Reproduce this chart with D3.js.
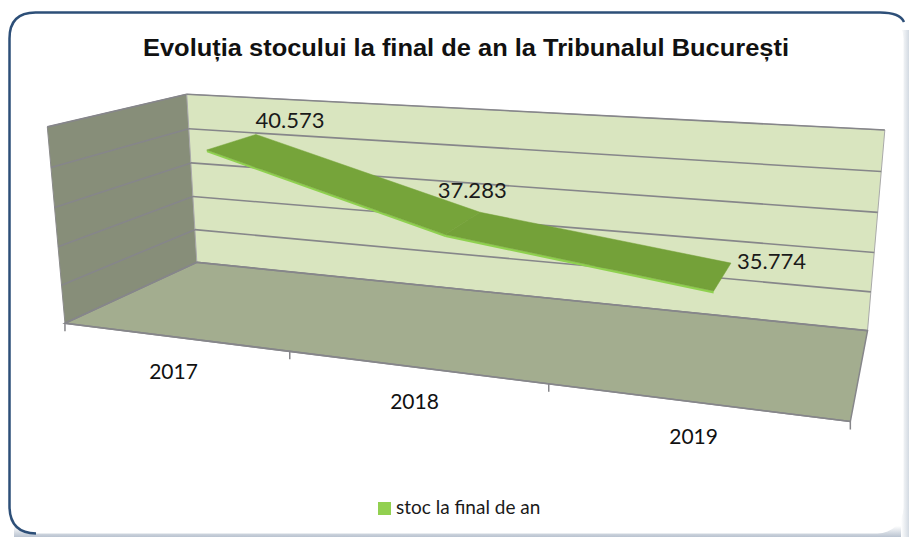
<!DOCTYPE html>
<html>
<head>
<meta charset="utf-8">
<script src="https://cdn.jsdelivr.net/npm/d3@7"></script>
<style>
  html, body { margin: 0; padding: 0; background: #fff; }
  svg { display: block; }
</style>
</head>
<body>
<svg id="chart" width="909" height="537"></svg>
<script>
// data
var years = ["2017", "2018", "2019"];
var stoc = [40573, 37283, 35774];
var valueTicks = [32000, 34000, 36000, 38000, 40000, 42000];
var seriesName = "stoc la final de an";
var title = "Evoluția stocului la final de an la Tribunalul București";

var width = 909, height = 537;
var svg = d3.select("#chart");

// 3d box: x = categories 0..3, y = value 0..1, z = depth 0 (front) .. 1 (back)
// anchors pin the box corners to the picture, a camera matrix is fitted to them
var anchors = [
    [[0, 1, 1], [186, 95]],
    [[0, 0, 1], [197, 263]],
    [[3, 1, 1], [885, 131]],
    [[3, 0, 1], [868, 328]],
    [[0, 0, 0], [65, 322]],
    [[0, 1, 0], [48, 125]],
    [[3, 0, 0], [850, 421]],
    [[1, 0, 0], [290, 352]],
    [[2, 0, 0], [548, 387]]
];

function fitCamera(pts) {
    var rows = [], rhs = [];
    pts.forEach(function (p) {
        var X = p[0][0], Y = p[0][1], Z = p[0][2], u = p[1][0], v = p[1][1];
        rows.push([X, Y, Z, 1, 0, 0, 0, 0, -u * X, -u * Y, -u * Z]); rhs.push(u);
        rows.push([0, 0, 0, 0, X, Y, Z, 1, -v * X, -v * Y, -v * Z]); rhs.push(v);
    });
    var n = 11, M = [], b = [];
    for (var i = 0; i < n; i++) {
        M.push(new Array(n).fill(0)); b.push(0);
        for (var k = 0; k < rows.length; k++) {
            b[i] += rows[k][i] * rhs[k];
            for (var j = 0; j < n; j++) M[i][j] += rows[k][i] * rows[k][j];
        }
    }
    // gaussian elimination
    for (var c = 0; c < n; c++) {
        var piv = c;
        for (var r = c + 1; r < n; r++) if (Math.abs(M[r][c]) > Math.abs(M[piv][c])) piv = r;
        var t = M[c]; M[c] = M[piv]; M[piv] = t;
        var tb = b[c]; b[c] = b[piv]; b[piv] = tb;
        for (var r2 = c + 1; r2 < n; r2++) {
            var f = M[r2][c] / M[c][c];
            for (var j2 = c; j2 < n; j2++) M[r2][j2] -= f * M[c][j2];
            b[r2] -= f * b[c];
        }
    }
    var p = new Array(n).fill(0);
    for (var r3 = n - 1; r3 >= 0; r3--) {
        var s = b[r3];
        for (var j3 = r3 + 1; j3 < n; j3++) s -= M[r3][j3] * p[j3];
        p[r3] = s / M[r3][r3];
    }
    return p;
}

var cam = fitCamera(anchors);

function proj(X, Y, Z) {
    var w = cam[8] * X + cam[9] * Y + cam[10] * Z + 1;
    return [(cam[0] * X + cam[1] * Y + cam[2] * Z + cam[3]) / w,
            (cam[4] * X + cam[5] * Y + cam[6] * Z + cam[7]) / w];
}

var xScale = d3.scaleBand().domain(years).range([0, 3]);
var yScale = d3.scaleLinear().domain([valueTicks[0], valueTicks[valueTicks.length - 1]]).range([0, 1]);
var xMid = function (d) { return xScale(d) + xScale.bandwidth() / 2; };

var ro = d3.formatLocale({ decimal: ",", thousands: ".", grouping: [3], currency: ["", ""] });
var fmt = ro.format(",d");

function poly(pts) { return "M" + pts.map(function (p) { return p.join(","); }).join("L") + "Z"; }
function line(a, b) { return "M" + a.join(",") + "L" + b.join(","); }

// chart area frame
var defs = svg.append("defs");
var sh = defs.append("linearGradient").attr("id", "shadowB").attr("x1", 0).attr("y1", 0).attr("x2", 0).attr("y2", 1);
sh.append("stop").attr("offset", 0).attr("stop-color", "#ffffff");
sh.append("stop").attr("offset", 1).attr("stop-color", "#b9c3d0");
svg.append("rect").attr("x", 14).attr("y", 526).attr("width", 895).attr("height", 11).attr("fill", "url(#shadowB)");
var shr = defs.append("linearGradient").attr("id", "shadowR").attr("x1", 0).attr("y1", 0).attr("x2", 1).attr("y2", 0);
shr.append("stop").attr("offset", 0).attr("stop-color", "#ffffff");
shr.append("stop").attr("offset", 1).attr("stop-color", "#d3dae2");
svg.append("rect").attr("x", 901).attr("y", 30).attr("width", 8).attr("height", 507).attr("fill", "url(#shadowR)");
svg.append("rect")
    .attr("x", 9.5).attr("y", 12.5).attr("width", 894).attr("height", 521)
    .attr("rx", 26).attr("fill", "#ffffff").attr("stroke", "none");
svg.append("path")
    .attr("d", "M9.5,506 L9.5,38.5 Q9.5,12.5 35.5,12.5 L880,12.5 Q900,12.5 904,22")
    .attr("fill", "none").attr("stroke", "#2d4f78").attr("stroke-width", 2.5);
svg.append("path")
    .attr("d", "M9.5,506 Q9.5,533 36,533.5")
    .attr("fill", "none").attr("stroke", "#2d4f78").attr("stroke-width", 2.5);

// title
svg.append("text")
    .attr("x", 466).attr("y", 56)
    .attr("text-anchor", "middle")
    .attr("font-family", "Liberation Sans, Arial, sans-serif")
    .attr("font-weight", "bold").attr("font-size", 23)
    .attr("textLength", 646).attr("lengthAdjust", "spacingAndGlyphs")
    .attr("fill", "#111")
    .text(title);

var plot = svg.append("g");
var gridColor = "#86868a";

// walls and floor
plot.append("path").attr("d", poly([proj(0, 0, 0), proj(0, 1, 0), proj(0, 1, 1), proj(0, 0, 1)]))
    .attr("fill", "#878e79").attr("stroke", "#8a8a8a").attr("stroke-width", 1);
plot.append("path").attr("d", poly([proj(0, 0, 1), proj(0, 1, 1), proj(3, 1, 1), proj(3, 0, 1)]))
    .attr("fill", "#d9e5bf").attr("stroke", "#a9a9a9").attr("stroke-width", 1);
plot.append("path").attr("d", poly([proj(0, 0, 0), proj(0, 0, 1), proj(3, 0, 1), proj(3, 0, 0)]))
    .attr("fill", "#a3ad8f").attr("stroke", gridColor).attr("stroke-width", 1.5);

// gridlines on side and back walls
var grid = plot.append("g").attr("fill", "none").attr("stroke", gridColor).attr("stroke-width", 1.6);
valueTicks.forEach(function (v) {
    var t = yScale(v);
    grid.append("path").attr("d", line(proj(0, t, 0), proj(0, t, 1)));
    grid.append("path").attr("d", line(proj(0, t, 1), proj(3, t, 1)));
});

// category axis along the front edge of the floor
var axis = plot.append("g").attr("fill", "none").attr("stroke", gridColor).attr("stroke-width", 1.5);
axis.append("path").attr("d", line(proj(0, 0, 0), proj(3, 0, 0)));
d3.range(0, years.length + 1).forEach(function (i) {
    var p = proj(i, 0, 0);
    axis.append("path").attr("d", line(p, [p[0], p[1] + 8]));
});

plot.append("g").selectAll("text")
    .data(years).enter().append("text")
    .attr("x", function (d) { return proj(xMid(d), 0, 0)[0]; })
    .attr("y", function (d) { return proj(xMid(d), 0, 0)[1] + 42; })
    .attr("text-anchor", "middle")
    .attr("font-family", "Lato, Carlito, sans-serif").attr("font-size", 21)
    .attr("fill", "#111")
    .text(function (d) { return d; });

// the 3d line as a flat ribbon
var zFront = 0.32, zBack = 0.72, thick = 0.012;
var pts = years.map(function (d, i) { return { X: xMid(d), Y: yScale(stoc[i]), v: stoc[i] }; });
var ribbon = plot.append("g");
var shades = ["#76a43a", "#74a139"];
for (var i = 0; i < pts.length - 1; i++) {
    var a = pts[i], b = pts[i + 1];
    ribbon.append("path")
        .attr("d", poly([proj(a.X, a.Y, zFront), proj(a.X, a.Y - thick, zFront), proj(b.X, b.Y - thick, zFront), proj(b.X, b.Y, zFront)]))
        .attr("fill", "#8fd14f");
    ribbon.append("path")
        .attr("d", poly([proj(a.X, a.Y, zFront), proj(b.X, b.Y, zFront), proj(b.X, b.Y, zBack), proj(a.X, a.Y, zBack)]))
        .attr("fill", shades[i]).attr("stroke", shades[i]).attr("stroke-width", 0.5);
}

// data labels
var labelOffsets = [[34, -6], [-8, -14], [6, -2]];
var labelAnchors = ["middle", "middle", "start"];
plot.append("g").selectAll("text")
    .data(pts).enter().append("text")
    .attr("x", function (d, i) { return proj(d.X, d.Y, zBack)[0] + labelOffsets[i][0]; })
    .attr("y", function (d, i) { return proj(d.X, d.Y, zBack)[1] + labelOffsets[i][1]; })
    .attr("dy", function (d, i) { return i === 2 ? "0.35em" : 0; })
    .attr("text-anchor", function (d, i) { return labelAnchors[i]; })
    .attr("font-family", "Lato, Carlito, sans-serif").attr("font-size", 22)
    .attr("fill", "#1a1a1a")
    .text(function (d) { return fmt(d.v); });

// legend
var legend = svg.append("g").attr("transform", "translate(378,502)");
legend.append("rect").attr("width", 13).attr("height", 13).attr("fill", "#92d050");
legend.append("text").attr("x", 18).attr("y", 12)
    .attr("font-family", "Lato, Carlito, sans-serif").attr("font-size", 19)
    .attr("fill", "#1a1a1a")
    .text(seriesName);
</script>
</body>
</html>
